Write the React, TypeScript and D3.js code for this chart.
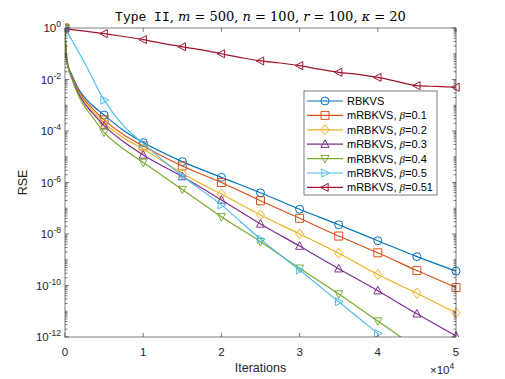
import React, { useEffect, useRef } from "react";
import * as d3 from "d3";

const itersEarly = [0, 150, 400, 900, 2000, 3500, 5000, 7500, 10000, 15000, 20000, 25000, 30000, 35000, 40000, 45000, 50000];
const markerIters = [0, 5000, 10000, 15000, 20000, 25000, 30000, 35000, 40000, 45000, 50000];

// RSE values (log10) per method
const rbkvs = [0, -1.0, -1.45, -1.83, -2.5, -3.0, -3.38, -3.98, -4.45, -5.19, -5.8, -6.4, -7.04, -7.64, -8.26, -8.88, -9.44];
const beta01 = [0, -1.02, -1.48, -1.88, -2.58, -3.12, -3.57, -4.15, -4.58, -5.36, -6.0, -6.71, -7.39, -8.08, -8.73, -9.42, -10.08];
const beta02 = [0, -1.04, -1.5, -1.91, -2.64, -3.22, -3.69, -4.27, -4.7, -5.65, -6.45, -7.26, -8.0, -8.75, -9.57, -10.3, -11.06];
const beta03 = [0, -1.06, -1.52, -1.94, -2.7, -3.3, -3.79, -4.42, -4.93, -5.77, -6.68, -7.61, -8.47, -9.35, -10.2, -11.1, -11.96];
const beta04 = [0, -1.1, -1.55, -2.0, -2.8, -3.45, -4.05, -4.7, -5.22, -6.27, -7.33, -8.3, -9.33, -10.33, -11.38, -12.43, -13.4];

const itersBeta05 = [0, 2500, 5000, 7500, 10000, 15000, 20000, 25000, 30000, 35000, 40000];
const beta05 = [0, -1.35, -2.8, -3.8, -4.48, -5.75, -6.87, -8.2, -9.4, -10.63, -11.86];

const itersBeta051 = [0, 2500, 5000, 7500, 10000, 12500, 15000, 17500, 20000, 22500, 25000, 27500, 30000, 32500, 35000, 37500, 40000, 42500, 45000, 47500, 50000];
const beta051 = [-0.03, -0.12, -0.22, -0.33, -0.45, -0.6, -0.73, -0.85, -1.0, -1.15, -1.28, -1.36, -1.46, -1.6, -1.72, -1.8, -1.92, -2.08, -2.24, -2.27, -2.3];

const labels = ["RBKVS", "0.1", "0.2", "0.3", "0.4", "0.5", "0.51"];
const colors = ["#0072BD", "#D95319", "#EDB120", "#7E2F8E", "#77AC30", "#4DBEEE", "#A2142F"];
const markers = ["circle", "square", "diamond", "triUp", "triDown", "triRight", "triLeft"];

const xTicks = [0, 10000, 20000, 30000, 40000, 50000];
const yTickExps = [0, -2, -4, -6, -8, -10, -12];

const W = 505, H = 379;
const M = { left: 65, top: 28, right: 456, bottom: 337 };

function markerPath(type: string, s: number) {
  const h = s / 2;
  switch (type) {
    case "square": return `M${-h},${-h}H${h}V${h}H${-h}Z`;
    case "diamond": return `M0,${-h * 1.25}L${h},0L0,${h * 1.25}L${-h},0Z`;
    case "triUp": return `M0,${-h * 1.1}L${h},${h * 0.8}L${-h},${h * 0.8}Z`;
    case "triDown": return `M0,${h * 1.1}L${h},${-h * 0.8}L${-h},${-h * 0.8}Z`;
    case "triRight": return `M${h * 1.1},0L${-h * 0.8},${h}L${-h * 0.8},${-h}Z`;
    case "triLeft": return `M${-h * 1.1},0L${h * 0.8},${h}L${h * 0.8},${-h}Z`;
    default: return "";
  }
}

export default function App() {
  const ref = useRef<SVGSVGElement>(null);

  useEffect(() => {
    document.body.style.margin = "0";
    const svg = d3.select(ref.current);
    svg.selectAll("*").remove();

    const x = d3.scaleLinear().domain([0, 50000]).range([M.left, M.right]);
    const y = d3.scaleLog().domain([1e-12, 1]).range([M.bottom, M.top]);

    const series = [
      { it: itersEarly, v: rbkvs },
      { it: itersEarly, v: beta01 },
      { it: itersEarly, v: beta02 },
      { it: itersEarly, v: beta03 },
      { it: itersEarly, v: beta04 },
      { it: itersBeta05, v: beta05 },
      { it: itersBeta051, v: beta051 },
    ].map((s) => s.it.map((it, i) => ({ it, val: Math.pow(10, s.v[i]) })));

    svg.append("rect").attr("width", W).attr("height", H).attr("fill", "#fff");
    svg.append("defs").append("clipPath").attr("id", "plotclip")
      .append("rect").attr("x", M.left).attr("y", M.top - 6)
      .attr("width", M.right - M.left + 6).attr("height", M.bottom - M.top + 6);

    // curves
    const line = d3.line<{ it: number; val: number }>()
      .x((d) => x(d.it)).y((d) => y(d.val)).curve(d3.curveMonotoneX);
    const plot = svg.append("g").attr("clip-path", "url(#plotclip)");
    const drawOrder = [6, 0, 1, 2, 3, 4, 5];
    drawOrder.forEach((k) => {
      plot.append("path").datum(series[k]).attr("d", line)
        .attr("fill", "none").attr("stroke", colors[k]).attr("stroke-width", 1.2);
      const pts = series[k].filter((d) => markerIters.includes(d.it) && d.val >= 1e-12);
      plot.selectAll(null).data(pts).join((enter) =>
        markers[k] === "circle"
          ? enter.append("circle").attr("r", 4).attr("cx", (d) => x(d.it)).attr("cy", (d) => y(d.val))
          : enter.append("path").attr("d", markerPath(markers[k], 8))
              .attr("transform", (d) => `translate(${x(d.it)},${y(d.val)})`)
      ).attr("fill", "none").attr("stroke", colors[k]).attr("stroke-width", 1);
    });

    // axes box and ticks
    const ax = svg.append("g").attr("stroke", "#262626").attr("stroke-width", 0.6);
    ax.append("rect").attr("x", M.left).attr("y", M.top)
      .attr("width", M.right - M.left).attr("height", M.bottom - M.top).attr("fill", "none");
    xTicks.forEach((t) => {
      ax.append("line").attr("x1", x(t)).attr("x2", x(t)).attr("y1", M.bottom).attr("y2", M.bottom - 4);
      ax.append("line").attr("x1", x(t)).attr("x2", x(t)).attr("y1", M.top).attr("y2", M.top + 4);
    });
    for (let e = -12; e <= 0; e++) {
      const major = e % 2 === 0;
      const len = major ? 4 : 2.5;
      const yy = y(Math.pow(10, e));
      ax.append("line").attr("x1", M.left).attr("x2", M.left + len).attr("y1", yy).attr("y2", yy);
      ax.append("line").attr("x1", M.right).attr("x2", M.right - len).attr("y1", yy).attr("y2", yy);
      if (e < 0) {
        for (let m = 2; m <= 9; m++) {
          const ym = y(m * Math.pow(10, e));
          ax.append("line").attr("x1", M.left).attr("x2", M.left + 2.5).attr("y1", ym).attr("y2", ym);
          ax.append("line").attr("x1", M.right).attr("x2", M.right - 2.5).attr("y1", ym).attr("y2", ym);
        }
      }
    }

    const font = "'Liberation Sans', Arial, sans-serif";
    const txt = svg.append("g").attr("font-family", font).attr("fill", "#262626");
    xTicks.forEach((t) => {
      txt.append("text").attr("x", x(t)).attr("y", 356).attr("text-anchor", "middle")
        .attr("font-size", 11.5).text(t / 10000);
    });
    yTickExps.forEach((e) => {
      const t = txt.append("text").attr("x", 61).attr("y", y(Math.pow(10, e)) + 4)
        .attr("text-anchor", "end").attr("font-size", 11.5);
      t.append("tspan").text("10");
      t.append("tspan").attr("dy", -5).attr("font-size", 8.5).text(String(e));
    });
    const xm = txt.append("text").attr("x", 430).attr("y", 374).attr("font-size", 11.5);
    xm.append("tspan").text("\u00d710");
    xm.append("tspan").attr("dy", -5).attr("font-size", 8.5).text("4");
    txt.append("text").attr("x", (M.left + M.right) / 2).attr("y", 372)
      .attr("text-anchor", "middle").attr("font-size", 12.5).text("Iterations");
    txt.append("text").attr("transform", `translate(27,${(M.top + M.bottom) / 2}) rotate(-90)`)
      .attr("text-anchor", "middle").attr("font-size", 12.5).text("RSE");

    // title
    const title = svg.append("text").attr("x", (M.left + M.right) / 2).attr("y", 21)
      .attr("text-anchor", "middle").attr("font-size", 13).attr("fill", "#000")
      .attr("font-family", "'DejaVu Serif', 'Liberation Serif', serif");
    title.append("tspan").attr("font-family", "'Liberation Mono', monospace").text("Type II");
    const parts: [string, boolean][] = [
      [", ", false], ["m", true], [" = 500, ", false], ["n", true], [" = 100, ", false],
      ["r", true], [" = 100, ", false], ["\u03ba", true], [" = 20", false],
    ];
    parts.forEach(([s, it]) => {
      const sp = title.append("tspan").text(s);
      if (it) sp.attr("font-style", "italic");
    });

    // legend
    const lg = svg.append("g");
    lg.append("rect").attr("x", 304).attr("y", 91).attr("width", 133).attr("height", 104)
      .attr("fill", "#fff").attr("stroke", "#262626").attr("stroke-width", 0.6);
    labels.forEach((lab, k) => {
      const yy = 101 + k * 14.4;
      lg.append("line").attr("x1", 307).attr("x2", 343).attr("y1", yy).attr("y2", yy)
        .attr("stroke", colors[k]).attr("stroke-width", 1.2);
      if (markers[k] === "circle") {
        lg.append("circle").attr("cx", 325).attr("cy", yy).attr("r", 4)
          .attr("fill", "none").attr("stroke", colors[k]);
      } else {
        lg.append("path").attr("d", markerPath(markers[k], 8)).attr("transform", `translate(325,${yy})`)
          .attr("fill", "none").attr("stroke", colors[k]);
      }
      const t = lg.append("text").attr("x", 347).attr("y", yy + 4).attr("font-size", 11)
        .attr("font-family", font).attr("fill", "#000");
      if (k === 0) {
        t.text(lab);
      } else {
        t.append("tspan").text("mRBKVS, ");
        t.append("tspan").attr("font-style", "italic").attr("font-family", "'Liberation Serif', serif").text("\u03b2");
        t.append("tspan").text("=" + lab);
      }
    });
  }, []);

  return <svg ref={ref} width={W} height={H} style={{ display: "block" }} />;
}
